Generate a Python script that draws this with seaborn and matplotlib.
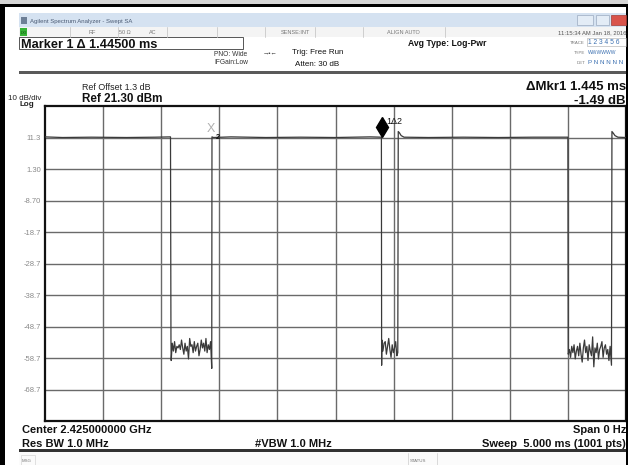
import numpy as np
import pandas as pd
import matplotlib
matplotlib.use("Agg")
import matplotlib.pyplot as plt
from matplotlib.patches import Rectangle
import seaborn as sns

# ---- trace data (time in ms, level in dBm) ----
high1_t  = [0.000, 0.150, 0.400, 0.700, 0.950, 1.080]
high1_db = [11.5, 11.3, 11.4, 11.3, 11.4, 11.5]

noise1_t = [1.084, 1.086, 1.095, 1.105, 1.115, 1.125, 1.135, 1.145, 1.155, 1.165,
            1.175, 1.185, 1.195, 1.205, 1.215, 1.225, 1.235, 1.245, 1.255, 1.265,
            1.275, 1.285, 1.295, 1.305, 1.315, 1.325, 1.335, 1.345, 1.355, 1.365,
            1.375, 1.385, 1.395, 1.405, 1.415, 1.425, 1.435]
noise1_db = [-53.0, -59.5, -54.0, -56.5, -53.5, -57.0, -55.0, -55.5, -54.5, -56.0,
             -53.0, -55.5, -57.5, -54.0, -56.5, -55.0, -59.0, -52.5, -55.0, -54.5,
             -57.0, -53.5, -56.5, -55.0, -54.0, -58.0, -56.0, -53.0, -55.5, -54.0,
             -56.5, -52.5, -57.0, -54.5, -56.0, -53.5, -62.0]

high2_t  = [1.437, 1.450, 1.600, 1.900, 2.200, 2.500, 2.800, 2.895]
high2_db = [11.5, 11.3, 11.5, 11.3, 11.4, 11.3, 11.5, 11.4]

noise2_t  = [2.897, 2.899, 2.908, 2.918, 2.928, 2.938, 2.948, 2.958, 2.968, 2.978,
             2.988, 2.998, 3.008, 3.018, 3.028, 3.036]
noise2_db = [-61.0, -53.0, -56.5, -54.0, -53.5, -57.5, -55.0, -52.5, -56.0, -58.5,
             -54.5, -57.0, -55.5, -53.5, -58.0, -57.0]

high3_t  = [3.040, 3.050, 3.065, 3.090, 3.300, 3.600, 3.900, 4.200, 4.500]
high3_db = [13.2, 12.8, 11.9, 11.4, 11.3, 11.4, 11.3, 11.4, 11.4]

noise3_t  = [4.503, 4.513, 4.523, 4.533, 4.543, 4.553, 4.563, 4.573, 4.583, 4.593,
             4.603, 4.613, 4.623, 4.633, 4.643, 4.653, 4.663, 4.673, 4.683, 4.693,
             4.703, 4.713, 4.723, 4.733, 4.743, 4.753, 4.763, 4.773, 4.783, 4.793,
             4.803, 4.813, 4.823, 4.833, 4.843, 4.853, 4.863, 4.875]
noise3_db = [-57.5, -56.0, -58.5, -55.0, -57.0, -54.5, -59.0, -56.5, -55.0, -58.0,
             -54.0, -57.5, -60.0, -55.5, -53.0, -57.0, -55.0, -59.5, -54.5, -56.5,
             -58.0, -52.0, -61.5, -55.5, -57.0, -54.0, -59.0, -56.0, -55.0, -53.5,
             -58.5, -55.5, -54.5, -57.5, -56.0, -59.5, -55.0, -61.0]

high4_t  = [4.879, 4.890, 4.905, 4.930, 5.000]
high4_db = [13.2, 12.7, 11.9, 11.4, 11.3]

marker_t = [2.897, 1.452]          # marker 1, marker 2 (delta ref)
ytick_vals = [11.3, 1.3, -8.7, -18.7, -28.7, -38.7, -48.7, -58.7, -68.7]
ytick_lbls = ["11.3", "1.30", "-8.70", "-18.7", "-28.7", "-38.7", "-48.7", "-58.7", "-68.7"]
ref_level, db_div = 21.3, 10
sweep_ms = 5.0

trace = pd.DataFrame({
    "t":  high1_t + noise1_t + high2_t + noise2_t + high3_t + noise3_t + high4_t,
    "db": high1_db + noise1_db + high2_db + noise2_db + high3_db + noise3_db + high4_db,
})

sns.set_style("white")
plt.rcParams["font.family"] = ["Liberation Sans", "DejaVu Sans"]

W, H = 628, 465
fig = plt.figure(figsize=(W / 100, H / 100), dpi=100, facecolor="white")

def fx(x): return x / W
def fy(y): return 1 - y / H

def rect(x0, y0, x1, y1, **kw):
    fig.add_artist(Rectangle((fx(x0), fy(y1)), (x1 - x0) / W, (y1 - y0) / H,
                             transform=fig.transFigure, **kw))

def vline(x, y0, y1, **kw):
    fig.add_artist(plt.Line2D([fx(x), fx(x)], [fy(y0), fy(y1)], transform=fig.transFigure, **kw))

def txt(x, y, s, **kw):
    kw.setdefault("va", "center_baseline")
    fig.text(fx(x), fy(y), s, **kw)

# ---- outer frame ----
rect(0, 0, W, 4, color="#d6d6d6", lw=0)
rect(0, 4, W, 7, color="black", lw=0)
rect(0, 4, 5, H, color="black", lw=0)
rect(626, 4, W, H, color="black", lw=0)

# ---- window title bar ----
rect(19, 13, 626, 27, color="#d5e2f1", lw=0)
rect(21, 17, 27, 24, color="#6d7f96", lw=0)
txt(30, 20.5, "Agilent Spectrum Analyzer - Swept SA", fontsize=4.3, color="#4b5b74")
rect(577, 15, 593, 25, color="#e3ecf6", ec="#9aaac0", lw=0.5)
rect(596, 15, 609, 25, color="#e3ecf6", ec="#9aaac0", lw=0.5)
rect(611, 15, 626, 25, color="#d9534a", ec="#a03a33", lw=0.5)

# ---- status row ----
rect(19, 27, 626, 37, color="#f4f4f4", lw=0)
rect(20, 28, 27, 36, color="#36b336", lw=0)
txt(20.5, 32, "LXI", fontsize=2.8, color="#0a4a0a")
for xs in [70, 118, 167, 217, 265, 315, 363, 445]:
    vline(xs, 27, 37, color="#c8c8c8", lw=0.6)
txt(92, 32, "RF", fontsize=4, color="#777777", ha="center")
txt(125, 32, "50 Ω", fontsize=4, color="#777777", ha="center")
txt(153, 32, "AC", fontsize=4, color="#777777", ha="center")
txt(295, 32, "SENSE:INT", fontsize=4, color="#777777", ha="center")
txt(403, 32, "ALIGN AUTO", fontsize=4, color="#777777", ha="center")
txt(626, 32, "11:15:34 AM Jan 18, 2016", fontsize=4.2, color="#555555", ha="right")

# ---- marker / settings panel ----
rect(19, 37, 243, 49, fc="white", ec="#555555", lw=0.7)
txt(21, 43, "Marker 1 Δ 1.44500 ms", fontsize=9.2, fontweight="bold", color="#111111")
txt(214, 53, "PNO: Wide", fontsize=4.8, color="#333333")
txt(214, 62, "IFGain:Low", fontsize=4.8, color="#333333")
txt(270, 53, "→•←", fontsize=4.5, color="#333333", ha="center")
txt(292, 52, "Trig: Free Run", fontsize=5.8, color="#111111")
txt(295, 63, "Atten: 30 dB", fontsize=5.8, color="#111111")
txt(447, 42, "Avg Type: Log-Pwr", fontsize=6.2, fontweight="bold", color="#111111", ha="center")
txt(585, 42, "TRACE", fontsize=3.2, color="#777777", ha="right")
txt(585, 52, "TYPE", fontsize=3.2, color="#777777", ha="right")
txt(585, 62, "DET", fontsize=3.2, color="#777777", ha="right")
rect(587, 38, 626, 46, fc="none", ec="#aaaaaa", lw=0.4)
txt(588, 42, "1 2 3 4 5 6", fontsize=4.8, color="#3a6fb0")
txt(588, 52, "WWWWWW", fontsize=3.6, color="#3a6fb0")
txt(588, 62, "P N N N N N", fontsize=4.5, color="#3a6fb0")
rect(19, 71, 626, 74, color="#5a5a5a", lw=0)

# ---- graph header ----
txt(82, 87, "Ref Offset 1.3 dB", fontsize=6.4, color="#222222")
txt(8, 98, "10 dB/div", fontsize=5.8, color="#222222")
txt(82, 97.5, "Ref 21.30 dBm", fontsize=8.4, fontweight="bold", color="#111111")
txt(20, 104, "Log", fontsize=5.8, fontweight="bold", color="#222222")
txt(626, 86, "ΔMkr1 1.445 ms", fontsize=9.5, fontweight="bold", color="#111111", ha="right")
txt(626, 99, "-1.49 dB", fontsize=9.5, fontweight="bold", color="#111111", ha="right")

# ---- trace axes ----
ax = fig.add_axes([fx(45), fy(421), 581 / W, 315 / H])
ax.set_xlim(0, sweep_ms)
ax.set_ylim(ref_level - 10 * db_div, ref_level)
ax.set_xticks(np.linspace(0, sweep_ms, 11)[1:-1])
ax.set_xticklabels([])
ax.set_yticks(ytick_vals)
ax.set_yticklabels(ytick_lbls)
ax.tick_params(axis="both", length=0, pad=3)
ax.tick_params(axis="y", labelsize=5.5, labelcolor="#8a8a8a")
ax.grid(True, color="#6a6a6a", lw=1.0)
for sp in ax.spines.values():
    sp.set_color("#111111")
    sp.set_linewidth(1.6)

sns.lineplot(data=trace, x="t", y="db", sort=False, estimator=None,
             color="#3a3a3a", lw=0.9, ax=ax, zorder=3)
ax.set_xlabel("")
ax.set_ylabel("")

# marker 1 (diamond) and label
m1_db = np.interp(marker_t[0] - 0.002, trace["t"][:60], trace["db"][:60])
ax.plot([marker_t[0]], [m1_db + 3.3], marker="d", ms=10, color="black", zorder=5)
ax.text(marker_t[0] + 0.04, m1_db + 5.0, "1Δ2", fontsize=6.5, color="#111111", va="center")
# marker 2 (delta reference)
ax.text(marker_t[1] - 0.02, ref_level - 7.3, "X", fontsize=9, color="#b0b0b0",
        ha="center", va="center", zorder=5)
ax.text(marker_t[1] + 0.035, ref_level - 9.9, "2", fontsize=5.5, fontweight="bold",
        color="#111111", ha="center", va="center", zorder=5)

# ---- footer ----
txt(22, 429, "Center 2.425000000 GHz", fontsize=8, fontweight="bold", color="#111111")
txt(22, 443, "Res BW 1.0 MHz", fontsize=8, fontweight="bold", color="#111111")
txt(255, 443, "#VBW 1.0 MHz", fontsize=8, fontweight="bold", color="#111111")
txt(626, 429, "Span 0 Hz", fontsize=8, fontweight="bold", color="#111111", ha="right")
txt(626, 443, "Sweep  5.000 ms (1001 pts)", fontsize=8, fontweight="bold",
    color="#111111", ha="right")
rect(19, 449, 626, 452, color="#333333", lw=0)
rect(19, 452, 626, H, color="#fbfbfb", lw=0)
rect(21, 455, 35, 465, fc="none", ec="#cccccc", lw=0.4)
txt(22, 460, "MSG", fontsize=3.2, color="#777777")
vline(408, 453, H, color="#cccccc", lw=0.5)
vline(437, 453, H, color="#cccccc", lw=0.5)
txt(410, 460, "STATUS", fontsize=3.2, color="#777777")

fig.savefig("out.png", dpi=100, facecolor="white")
